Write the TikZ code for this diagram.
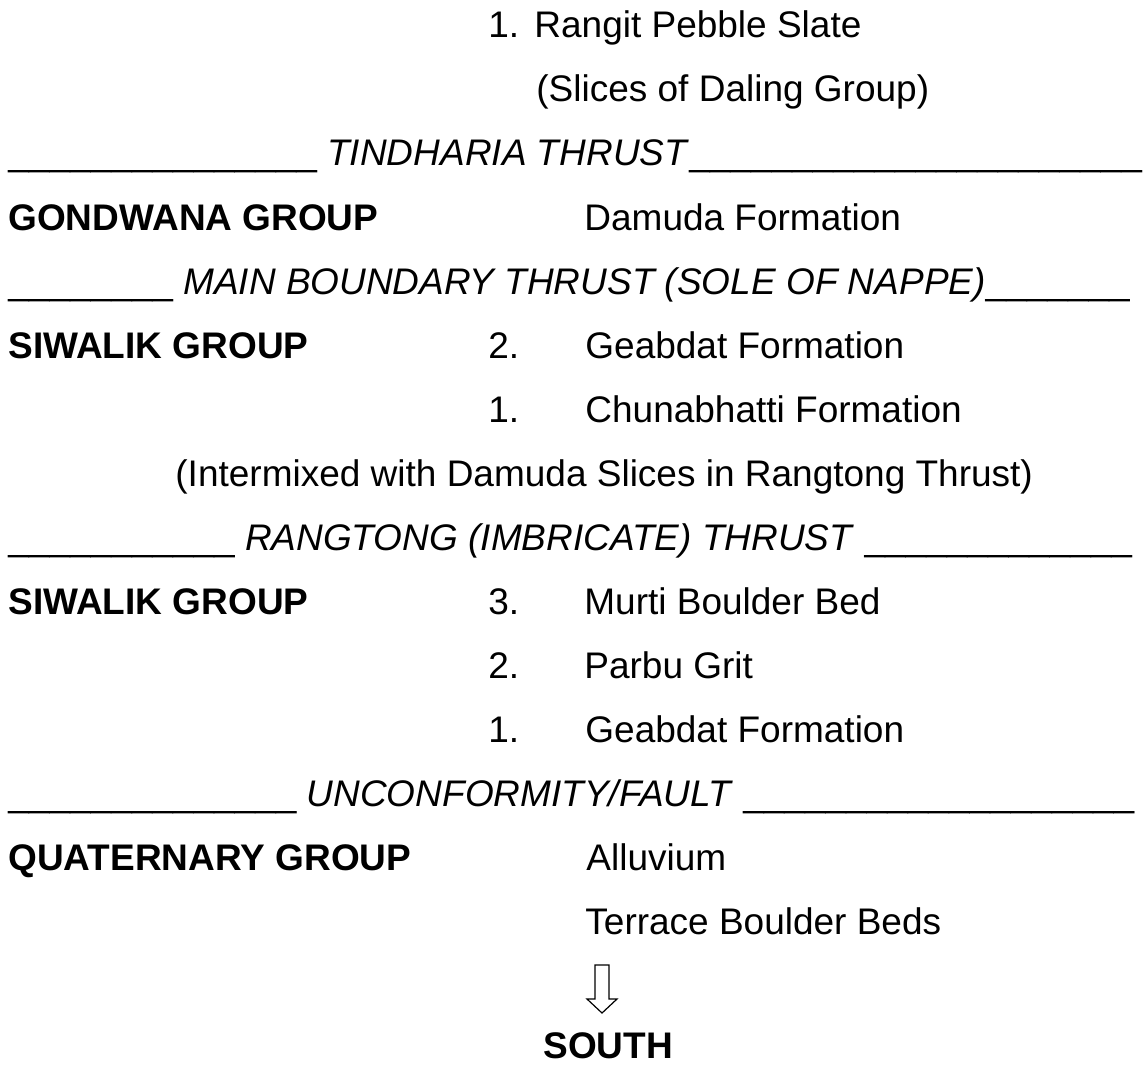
\documentclass[tikz,border=0pt]{standalone}
\usepackage{fontspec}
\setmainfont{Liberation Sans}
\usetikzlibrary{positioning}

\newcommand{\bars}[1]{\foreach \i in {1,...,#1}{\_}}

\begin{document}
\begin{tikzpicture}[
    x=0.5pt, y=-0.5pt,
    txt/.style={anchor=base west, inner sep=0pt, font=\fontsize{18.5}{22}\selectfont},
    grp/.style={txt, font=\fontsize{18.5}{22}\selectfont\bfseries},
    blockarrow/.style={draw, line width=0.6pt, fill=white, line join=miter},
  ]
    \useasboundingbox (0,0) rectangle (1143,1064);

    % top unit
    \node[txt] (n1a) at (488,38) {1.};
    \node[txt] (rangit) at (534,38) {Rangit Pebble Slate};
    \node[txt] (daling) at (536,102) {(Slices of Daling Group)};

    \node[txt] (tindharia) at (8,166) {\bars{15} \textit{TINDHARIA THRUST}\bars{22}};

    \node[grp] (gondwana) at (8,230) {GONDWANA GROUP};
    \node[txt] (damuda) at (584,230) {Damuda Formation};

    \node[txt] (mbt) at (8,294) {\bars{8} \textit{MAIN BOUNDARY THRUST (SOLE OF NAPPE)}\bars{7}};

    % upper siwalik
    \node[grp] (siwalikA) at (8,358) {SIWALIK GROUP};
    \node[txt] (n2b) at (488,358) {2.};
    \node[txt] (geabdatA) at (585,358) {Geabdat Formation};
    \node[txt] (n1b) at (488,422) {1.};
    \node[txt] (chunabhatti) at (585,422) {Chunabhatti Formation};
    \node[txt] (intermixed) at (175,486) {(Intermixed with Damuda Slices in Rangtong Thrust)};

    \node[txt] (rangtong) at (8,550) {\bars{11} \textit{RANGTONG (IMBRICATE) THRUST} \bars{13}};

    % lower siwalik
    \node[grp] (siwalikB) at (8,614) {SIWALIK GROUP};
    \node[txt] (n3c) at (488,614) {3.};
    \node[txt] (murti) at (584,614) {Murti Boulder Bed};
    \node[txt] (n2c) at (488,678) {2.};
    \node[txt] (parbu) at (584,678) {Parbu Grit};
    \node[txt] (n1c) at (488,742) {1.};
    \node[txt] (geabdatB) at (585,742) {Geabdat Formation};

    \node[txt] (unconf) at (8,806) {\bars{14} \textit{UNCONFORMITY/FAULT} \bars{19}};

    % quaternary
    \node[grp] (quaternary) at (8,870) {QUATERNARY GROUP};
    \node[txt] (alluvium) at (586,870) {Alluvium};
    \node[txt] (terrace) at (585,934) {Terrace Boulder Beds};

    \node[grp] (south) at (543,1058) {SOUTH};

    % direction arrow
    \coordinate (tip) at (602,1013);
    \draw[blockarrow] (595,965) -- (609,965) -- (609,999) -- (617,999)
        -- (tip) -- (587,999) -- (595,999) -- cycle;
\end{tikzpicture}
\end{document}
